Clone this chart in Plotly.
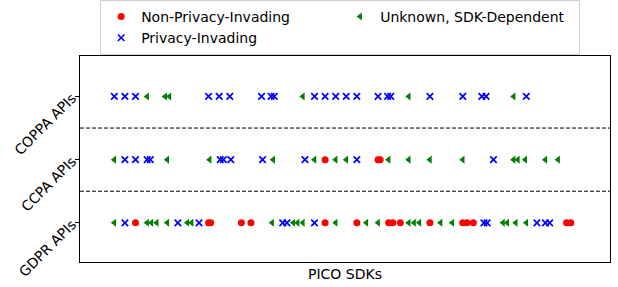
import plotly.graph_objects as go

row_labels = ["GDPR APIs", "CCPA APIs", "COPPA APIs"]
row_values = [0, 1, 2]

# SDK positions (along the PICO SDK axis) for each category and API group
gdpr_non = [3.0, 9.9, 10.1, 13.0, 13.9, 20.9, 23.9, 26.9, 27.3, 28.0, 30.8, 33.9, 34.3, 34.9, 43.7, 44.1]
gdpr_priv = [2.0, 7.0, 9.0, 16.9, 17.3, 19.9, 35.9, 36.2, 40.9, 41.7, 42.1]
gdpr_unk = [1.0, 4.1, 4.5, 5.0, 6.0, 7.9, 8.3, 15.9, 17.9, 18.3, 18.8, 21.9, 24.8, 25.9,
            28.8, 29.3, 29.8, 31.8, 32.9, 37.7, 38.1, 38.9, 39.9]

ccpa_non = [20.9, 25.9, 26.1]
ccpa_priv = [2.0, 3.0, 4.1, 4.4, 11.0, 11.3, 12.0, 15.0, 19.0, 23.9, 36.8]
ccpa_unk = [1.0, 6.0, 10.0, 16.0, 19.9, 21.9, 22.9, 26.9, 28.8, 30.8, 33.9, 38.7, 39.1,
            39.8, 41.7, 42.9]

coppa_non = []
coppa_priv = [1.0, 2.0, 3.0, 9.9, 10.9, 11.9, 14.9, 15.8, 16.1, 19.9, 20.9, 21.9, 22.9,
              23.9, 25.9, 26.8, 27.1, 30.8, 33.9, 35.7, 36.1, 39.9]
coppa_unk = [4.1, 5.8, 6.2, 18.8, 28.8, 38.7]

non_x = gdpr_non + ccpa_non + coppa_non
non_y = [0] * len(gdpr_non) + [1] * len(ccpa_non) + [2] * len(coppa_non)
priv_x = gdpr_priv + ccpa_priv + coppa_priv
priv_y = [0] * len(gdpr_priv) + [1] * len(ccpa_priv) + [2] * len(coppa_priv)
unk_x = gdpr_unk + ccpa_unk + coppa_unk
unk_y = [0] * len(gdpr_unk) + [1] * len(ccpa_unk) + [2] * len(coppa_unk)

fig = go.Figure()
fig.add_trace(go.Scatter(
    x=non_x, y=non_y, mode="markers", name="Non-Privacy-Invading", legendrank=1,
    marker=dict(symbol="circle", size=7, color="#ff0000", line=dict(width=0)),
))
fig.add_trace(go.Scatter(
    x=priv_x, y=priv_y, mode="markers", name="Privacy-Invading", legendrank=3,
    marker=dict(symbol="x-thin", size=6.5, color="#0000ff", line=dict(width=1.7, color="#0000ff")),
))
fig.add_trace(go.Scatter(
    x=unk_x, y=unk_y, mode="markers", name="Unknown, SDK-Dependent", legendrank=2,
    marker=dict(symbol="triangle-left", size=7, color="#008000", line=dict(width=0)),
))

for yv in [0.5, 1.5]:
    fig.add_hline(y=yv, line=dict(color="black", width=1, dash="4px,2px"))

fig.update_layout(
    width=618, height=287,
    margin=dict(l=80, r=8, t=56, b=25, autoexpand=False),
    paper_bgcolor="white", plot_bgcolor="white",
    font=dict(family="DejaVu Sans", color="black"),
    showlegend=True,
    legend=dict(
        orientation="h", x=0.038, xanchor="left", y=1.272, yanchor="top",
        entrywidth=194, font=dict(size=14),
        bgcolor="white", bordercolor="#d0d0d0", borderwidth=1,
    ),
    xaxis=dict(
        range=[-2.24, 47.8], showticklabels=False, ticks="", showgrid=False, zeroline=False,
        showline=True, linecolor="black", linewidth=1, mirror=True, automargin=False,
        title=dict(text="PICO SDKs", font=dict(size=14), standoff=7),
    ),
    yaxis=dict(
        range=[-0.62, 2.64], tickvals=row_values, ticktext=row_labels, tickangle=-45,
        ticks="outside", ticklen=4, tickcolor="black", tickfont=dict(size=14),
        showgrid=False, zeroline=False, automargin=False,
        showline=True, linecolor="black", linewidth=1, mirror=True,
    ),
)

fig.write_html("out.html", config={"displayModeBar": False},
               post_script="document.body.style.margin='0';")
